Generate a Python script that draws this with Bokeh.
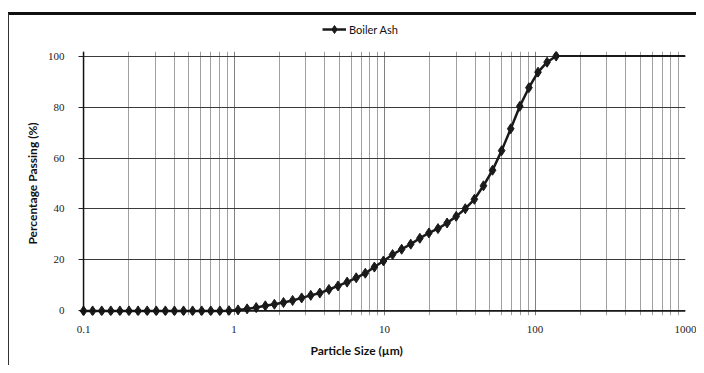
from bokeh.plotting import figure
from bokeh.layouts import column
from bokeh.models import (FixedTicker, CustomJSTickFormatter, Span, Legend,
                          LegendItem, Range1d, Title)
from bokeh.embed import file_html
from bokeh.resources import INLINE

# Particle size classes (µm)
sizes = [0.1, 0.1149, 0.1321, 0.1518, 0.1744, 0.2004, 0.2303, 0.2647, 0.3042,
         0.3496, 0.4017, 0.4617, 0.5306, 0.6097, 0.7007, 0.8052, 0.9254,
         1.0635, 1.222, 1.404, 1.614, 1.855, 2.132, 2.450, 2.815, 3.235,
         3.718, 4.273, 4.910, 5.643, 6.485, 7.452, 8.564, 9.842, 11.31,
         13.00, 14.94, 17.17, 19.73, 22.67, 26.05, 29.94, 34.41, 39.54,
         45.44, 52.22, 60.01, 68.97, 79.26, 91.08, 104.7, 120.3, 138.2]
# Cumulative percentage passing (%)
passing = [0, 0, 0, 0, 0, 0, 0, 0, 0, 0, 0, 0, 0, 0, 0, 0, 0.1,
           0.4, 0.8, 1.3, 2.0, 2.6, 3.3, 4.1, 5.1, 6.1, 7.0, 8.4, 9.8,
           11.3, 13.0, 14.8, 17.2, 19.6, 22.1, 24.2, 26.2, 28.5, 30.6,
           32.3, 34.5, 37.1, 40.1, 43.8, 49.1, 55.2, 62.9, 71.5, 80.3,
           87.6, 93.7, 97.6, 100]
# flat tail of the curve after the last class
tail_x = [138.2, 1000]
tail_y = [100, 100]

x_ticks = [0.1, 1, 10, 100, 1000]
y_ticks = [0, 20, 40, 60, 80, 100]
series_name = "Boiler Ash"

minor = [m * 10.0 ** k for k in range(-1, 3) for m in range(2, 10)]

LINE_C = "#1a1a1a"

# ---- legend strip (own small figure above the chart; its series lie
#      outside its visible range so only the legend shows) ----
lg = figure(width=687, height=30, output_backend="svg", toolbar_location=None,
            min_border=0, x_axis_location=None, y_axis_location=None,
            x_range=Range1d(5000, 6000), y_range=Range1d(0, 1))
lg.grid.visible = False
lg.outline_line_color = None
lg_line = lg.line(sizes, passing, line_color=LINE_C, line_width=2.5)
lg_mark = lg.scatter(sizes, passing, marker="diamond", size=10,
                     fill_color=LINE_C, line_color=LINE_C)
legend = Legend(items=[LegendItem(label=series_name, renderers=[lg_line, lg_mark])],
                location=(243, 6), orientation="horizontal",
                border_line_color=None, background_fill_alpha=0,
                padding=0, margin=0, glyph_width=24, label_standoff=3,
                label_text_font="Lato", label_text_font_size="11px",
                label_text_color="#111")
lg.add_layout(legend)

# ---- main chart ----
p = figure(width=687, height=320, x_axis_type="log",
           x_range=Range1d(0.094, 1000), y_range=Range1d(-1.8, 101.8),
           output_backend="svg", toolbar_location=None,
           min_border_left=70, min_border_right=11,
           min_border_top=6, min_border_bottom=50)
p.outline_line_color = None
p.background_fill_color = "white"

p.xaxis.ticker = FixedTicker(ticks=x_ticks, minor_ticks=minor)
p.xaxis.formatter = CustomJSTickFormatter(code="return tick.toString();")
p.yaxis.ticker = FixedTicker(ticks=y_ticks)

p.xgrid.grid_line_color = "#808080"
p.xgrid.minor_grid_line_color = "#a0a0a0"
p.xgrid.grid_line_width = 1
p.ygrid.grid_line_color = "#3a3a3a"
p.ygrid.grid_line_width = 1

for ax in (p.xaxis, p.yaxis):
    ax.axis_line_color = None
    ax.minor_tick_line_color = None
    ax.major_label_text_font = "Liberation Serif"
    ax.major_label_text_font_size = "11px"
    ax.major_label_text_color = "#222"
    ax.axis_label_text_font = "Lato"
    ax.axis_label_text_font_style = "bold"
    ax.axis_label_text_font_size = "12px"
    ax.axis_label_text_color = "#111"

p.xaxis.major_tick_line_color = None
p.xaxis.major_label_standoff = 4
p.yaxis.major_tick_out = 1
p.yaxis.major_tick_in = 4
p.yaxis.major_tick_line_color = "#222"
p.yaxis.major_label_standoff = 14
p.yaxis.axis_label = "Percentage Passing (%)"
p.yaxis.axis_label_standoff = 5

p.add_layout(Title(text="Particle Size (µm)", align="left", offset=231,
                   text_font="Lato", text_font_style="bold",
                   text_font_size="12px", text_color="#111"), "below")

p.add_layout(Span(location=0, dimension="width", line_color="#111", line_width=1.5))
p.add_layout(Span(location=0.1, dimension="height", line_color="#111", line_width=1.5))

p.line(sizes, passing, line_color=LINE_C, line_width=2.5)
p.line(tail_x, tail_y, line_color=LINE_C, line_width=2)
p.scatter(sizes, passing, marker="diamond", size=10,
          fill_color=LINE_C, line_color=LINE_C)

layout = column(lg, p, spacing=0)
layout.margin = (12, 0, 0, 8)
layout.styles = {"border-top": "3px solid #111", "border-left": "1px solid #333"}

open("out.html", "w").write(file_html(layout, INLINE))
